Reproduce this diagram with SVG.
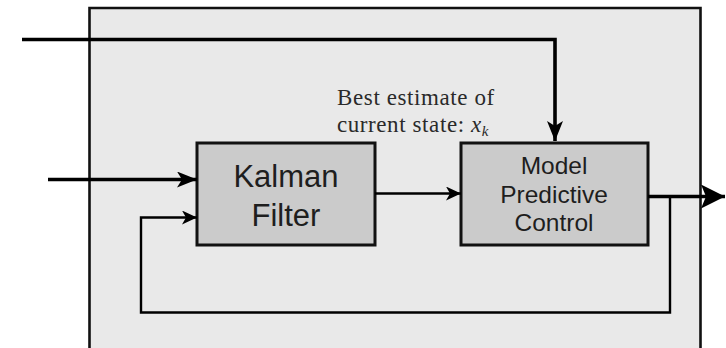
<svg xmlns="http://www.w3.org/2000/svg" width="726" height="348" viewBox="0 0 726 348">
<defs>
<style>
.blk{fill:#cbcbcb;stroke:#111;stroke-width:3}
.sans{font-family:"Liberation Sans",Arial,sans-serif;fill:#1e1e1e;text-anchor:middle}
.serif{font-family:"Liberation Serif","Times New Roman",serif;fill:#2a2a2a;text-anchor:middle;font-size:23px}
.thick{fill:none;stroke:#000;stroke-width:3.6;stroke-linejoin:miter}
.thin{fill:none;stroke:#000;stroke-width:2.4;stroke-linejoin:miter}
</style>
<marker id="bigHead" viewBox="0 0 20 16" refX="20" refY="8" markerWidth="20" markerHeight="16" markerUnits="userSpaceOnUse" orient="auto">
<path d="M0,0 L20,8 L0,16 L5,8 Z" fill="#000"/>
</marker>
<marker id="outHead" viewBox="0 0 24 24" refX="24" refY="12" markerWidth="24" markerHeight="24" markerUnits="userSpaceOnUse" orient="auto">
<path d="M0,0 L24,12 L0,24 L5,12 Z" fill="#000"/>
</marker>
<marker id="smallHead" viewBox="0 0 15 14" refX="15" refY="7" markerWidth="15" markerHeight="14" markerUnits="userSpaceOnUse" orient="auto">
<path d="M0,0 L15,7 L0,14 L4,7 Z" fill="#000"/>
</marker>
</defs>
<g id="system">
<rect x="89.5" y="8" width="611" height="340" fill="#e9e9e9"/>
<path d="M89.5,348 V8 H700.5 V348" fill="none" stroke="#111" stroke-width="2.6"/>
</g>
<g id="label">
<text class="serif" x="416" y="105" letter-spacing="0.6">Best estimate of</text>
<text class="serif" x="413" y="131.5" letter-spacing="0.6">current state: <tspan font-style="italic">x</tspan><tspan font-style="italic" font-size="15" dy="4">k</tspan></text>
</g>
<g id="kalman">
<rect class="blk" x="197" y="143" width="178" height="102"/>
<text class="sans" x="286" y="186.5" font-size="31">Kalman</text>
<text class="sans" x="286" y="225.5" font-size="31">Filter</text>
</g>
<g id="mpc">
<rect class="blk" x="461" y="143" width="187" height="102"/>
<text class="sans" x="554" y="173.5" font-size="24.5">Model</text>
<text class="sans" x="554" y="203" font-size="24.5">Predictive</text>
<text class="sans" x="554" y="231" font-size="24.5">Control</text>
</g>
<g id="connectors">
<path class="thick" d="M22,39.5 H555 V141" marker-end="url(#bigHead)"/>
<path class="thick" d="M48,179.5 H197" marker-end="url(#bigHead)"/>
<path class="thin" d="M375,193.5 H461" marker-end="url(#smallHead)"/>
<path class="thick" d="M648,196.5 H725" marker-end="url(#outHead)"/>
<path class="thin" d="M670,196.5 V312.5 H141 V217.5 H197" marker-end="url(#smallHead)"/>
</g>
</svg>
